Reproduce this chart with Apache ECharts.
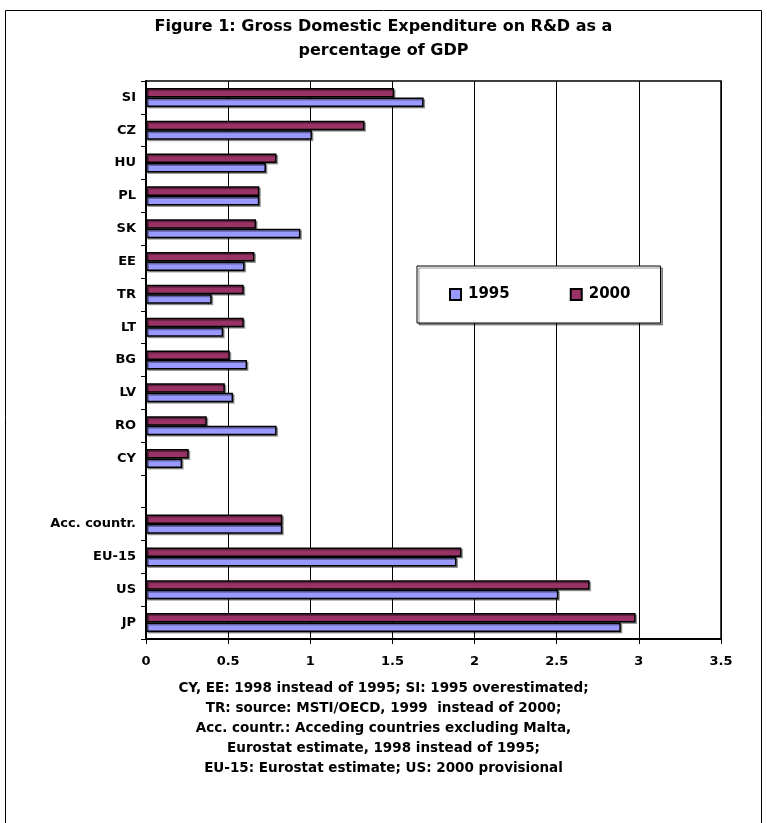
<!DOCTYPE html>
<html>
<head>
<meta charset="utf-8">
<script src="https://cdn.jsdelivr.net/npm/echarts@6/dist/echarts.min.js"></script>
<style>
html,body{margin:0;padding:0;background:#fff;}
#chart{width:767px;height:823px;}
</style>
</head>
<body>
<div id="chart"></div>
<script>
// Data, top-to-bottom as shown in the reference
var categories = ['SI','CZ','HU','PL','SK','EE','TR','LT','BG','LV','RO','CY','','Acc. countr.','EU-15','US','JP'];
var values1995 = [1.69,1.01,0.73,0.69,0.94,0.60,0.40,0.47,0.615,0.53,0.795,0.22,null,0.83,1.89,2.51,2.89];
var values2000 = [1.51,1.33,0.795,0.69,0.67,0.66,0.595,0.595,0.51,0.48,0.37,0.26,null,0.83,1.92,2.70,2.98];
var seriesNames = ['1995','2000'];
var xTicks = {min:0, max:3.5, interval:0.5};
var titleLines = ['Figure 1: Gross Domestic Expenditure on R&D as a','percentage of GDP'];
var noteLines = [
  'CY, EE: 1998 instead of 1995; SI: 1995 overestimated;',
  'TR: source: MSTI/OECD, 1999  instead of 2000;',
  'Acc. countr.: Acceding countries excluding Malta,',
  'Eurostat estimate, 1998 instead of 1995;',
  'EU-15: Eurostat estimate; US: 2000 provisional'
];

var FONT = '"DejaVu Sans", "Liberation Sans", Arial, sans-serif';
var chart = echarts.init(document.getElementById('chart'), null, {renderer:'canvas'});

var graphics = [
  {type:'rect', shape:{x:5.5,y:10.5,width:756,height:830}, style:{fill:null, stroke:'#000', lineWidth:1}, z:-10}
];
titleLines.forEach(function(t,i){
  graphics.push({type:'text', left:'center', top:19+i*24, style:{text:t, font:'bold 16px '+FONT, fill:'#000'}});
});
noteLines.forEach(function(t,i){
  graphics.push({type:'text', left:'center', top:681+i*20.2, style:{text:t, font:'bold 13.5px '+FONT, fill:'#000'}});
});

var barStyle = function(c){
  return {color:c, borderColor:'#000', borderWidth:1.5, shadowColor:'rgba(0,0,0,0.35)', shadowOffsetX:1.5, shadowOffsetY:1.5};
};

chart.setOption({
  animation:false,
  backgroundColor:'#fff',
  textStyle:{fontFamily:FONT},
  grid:{left:146, right:46, top:81, bottom:184, containLabel:false, show:true, borderColor:'#000', borderWidth:1.5},
  legend:{
    left:417, top:266,
    data:seriesNames,
    orient:'horizontal',
    itemWidth:11, itemHeight:11, itemGap:60,
    padding:[21,30,21,32],
    borderColor:'#000', borderWidth:1,
    backgroundColor:'#fff',
    shadowColor:'rgba(0,0,0,0.4)', shadowOffsetX:2, shadowOffsetY:2, shadowBlur:0,
    icon:'rect',
    textStyle:{fontSize:15, fontWeight:'bold', color:'#000', fontFamily:FONT, padding:[0,0,0,2]}
  },
  xAxis:{
    type:'value', min:xTicks.min, max:xTicks.max, interval:xTicks.interval,
    axisLine:{show:true, lineStyle:{color:'#000', width:2}},
    axisTick:{show:true, length:5, lineStyle:{color:'#000'}},
    axisLabel:{fontSize:13, fontWeight:'bold', color:'#000', margin:16},
    splitLine:{show:true, lineStyle:{color:'#000', width:1}}
  },
  yAxis:{
    type:'category', data:categories, inverse:true,
    axisLine:{show:true, lineStyle:{color:'#000', width:2}},
    axisTick:{show:true, length:5, lineStyle:{color:'#000'}},
    axisLabel:{fontSize:13, fontWeight:'bold', color:'#000', margin:10},
    splitLine:{show:false}
  },
  series:[
    {name:seriesNames[1], type:'bar', data:values2000, barGap:'0%', barCategoryGap:'42%', itemStyle:barStyle('#993366')},
    {name:seriesNames[0], type:'bar', data:values1995, barGap:'0%', barCategoryGap:'42%', itemStyle:barStyle('#9999FF')}
  ],
  graphic:graphics
});
</script>
</body>
</html>
